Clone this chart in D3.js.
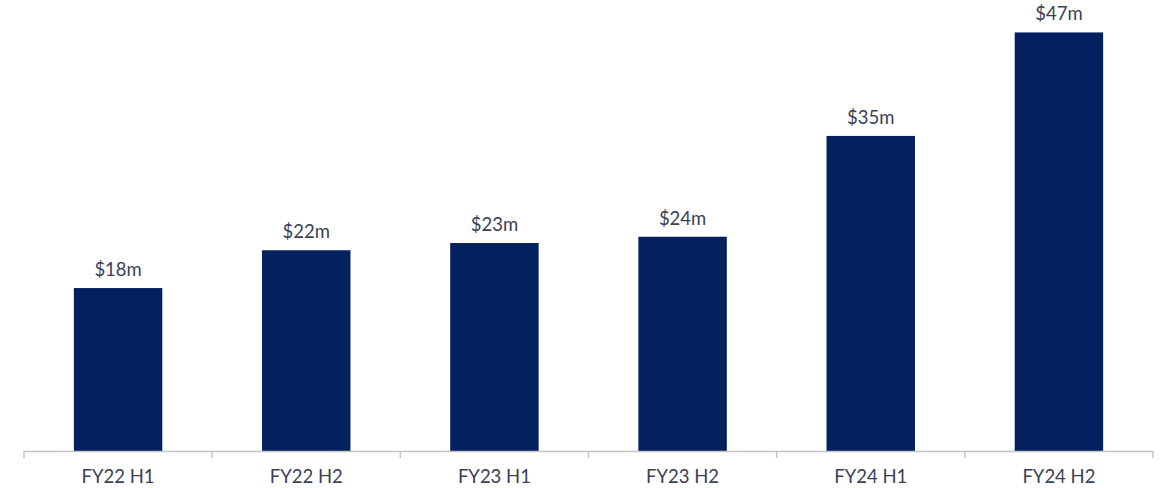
<!DOCTYPE html>
<html>
<head>
<meta charset="utf-8">
<script src="https://cdn.jsdelivr.net/npm/d3@7"></script>
<style>
  body { margin: 0; background: #fff; }
  .labels { font-family: Lato, "Open Sans", sans-serif; fill: #3b3f57; }
</style>
</head>
<body>
<div id="chart"></div>
<script>
// periods along the x axis
var periods = ["FY22 H1", "FY22 H2", "FY23 H1", "FY23 H2", "FY24 H1", "FY24 H2"];
// values in $m
var values = [18.1, 22.3, 23.1, 23.8, 35.0, 46.5];
// printed labels above the bars
var valueLabels = ["$18m", "$22m", "$23m", "$24m", "$35m", "$47m"];

var width = 1161, height = 488;
var margin = {top: 0, right: 8, bottom: 37, left: 24};

var svg = d3.select("#chart").append("svg")
    .attr("width", width)
    .attr("height", height);

var x = d3.scaleBand()
    .domain(periods)
    .range([margin.left, width - margin.right])
    .paddingInner(0.53)
    .paddingOuter(0.265);

var y = d3.scaleLinear()
    .domain([0, 50.1])
    .range([height - margin.bottom, 0]);

var baseY = y(0);

// bars
svg.selectAll("rect.bar")
    .data(values)
    .enter()
    .append("rect")
    .attr("class", "bar")
    .attr("x", (d, i) => x(periods[i]))
    .attr("y", d => y(d))
    .attr("width", x.bandwidth())
    .attr("height", d => baseY - y(d))
    .attr("fill", "#03205f");

// value labels
svg.selectAll("text.val")
    .data(values)
    .enter()
    .append("text")
    .attr("class", "labels val")
    .attr("x", (d, i) => x(periods[i]) + x.bandwidth() / 2)
    .attr("y", d => y(d) - 12)
    .attr("text-anchor", "middle")
    .style("font-size", "18.5px")
    .text((d, i) => valueLabels[i]);

// x axis: baseline with ticks at the band edges
var step = x.step();
var edges = d3.range(periods.length + 1).map(i => margin.left + i * step);

svg.append("line")
    .attr("x1", edges[0])
    .attr("x2", edges[edges.length - 1])
    .attr("y1", baseY + 0.5)
    .attr("y2", baseY + 0.5)
    .attr("stroke", "#c4c4c4")
    .attr("stroke-width", 1.5);

svg.selectAll("line.tick")
    .data(edges)
    .enter()
    .append("line")
    .attr("class", "tick")
    .attr("x1", d => d)
    .attr("x2", d => d)
    .attr("y1", baseY)
    .attr("y2", baseY + 7)
    .attr("stroke", "#c4c4c4")
    .attr("stroke-width", 1.5);

svg.selectAll("text.cat")
    .data(periods)
    .enter()
    .append("text")
    .attr("class", "labels cat")
    .attr("x", d => x(d) + x.bandwidth() / 2)
    .attr("y", baseY + 32)
    .attr("text-anchor", "middle")
    .style("font-size", "18.5px")
    .text(d => d);
</script>
</body>
</html>
